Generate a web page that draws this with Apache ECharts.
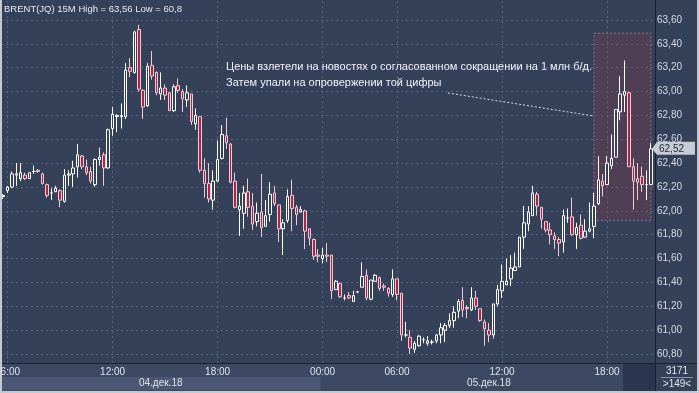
<!DOCTYPE html>
<html><head><meta charset="utf-8">
<script src="https://cdn.jsdelivr.net/npm/echarts@6.0.0/dist/echarts.min.js"></script>
<style>html,body{margin:0;padding:0;background:#354059;overflow:hidden}#c{width:699px;height:393px}</style>
</head><body><div id="c"></div>
<script>
// ---- data ----
const sessions = [
  { date: '04.12.18', start: '05:45', bars: 73 },
  { date: '05.12.18', start: '00:00', bars: 4 },
  { date: '05.12.18', start: '02:45', bars: 72 }
];
const hourTicks = ['00:00', '06:00', '12:00', '18:00'];
const dayLabels = ['04.дек.18', '05.дек.18'];
const dayLabelIndex = [36, 111];
const yTickMin = 60.6, yTickMax = 63.8, yTickStep = 0.2;

const opens = [62.12,62.17,62.20,62.30,62.27,62.30,62.27,62.33,62.34,62.31,
62.22,62.15,62.16,62.17,62.08,62.30,62.31,62.37,62.46,62.37,
62.33,62.22,62.43,62.47,62.36,62.69,62.79,62.79,62.79,63.20,
63.16,63.52,63.01,62.88,63.22,63.16,62.98,63.03,62.99,62.84,
63.05,63.00,62.93,62.98,62.73,62.79,62.34,62.23,62.09,62.25,
62.44,62.63,62.56,62.25,62.01,61.98,62.16,62.04,61.91,61.99,
61.87,61.97,62.15,62.05,61.85,61.92,62.13,62.03,61.99,62.00,
61.85,61.76,61.63,61.60,61.63,61.63,61.34,61.39,61.27,61.29,
61.24,61.32,61.36,61.46,61.26,61.41,61.44,61.37,61.35,61.30,
61.43,61.31,60.96,60.94,60.84,60.87,60.92,60.89,60.90,60.91,
60.96,61.00,61.04,61.08,61.16,61.25,61.19,61.17,61.27,61.18,
61.07,61.00,60.96,61.22,61.33,61.38,61.43,61.50,61.53,61.78,
61.89,61.96,62.14,62.03,61.91,61.84,61.79,61.76,61.74,61.94,
61.95,61.80,61.88,61.78,61.83,61.87,62.06,62.25,62.22,62.38,
62.45,62.83,62.97,62.99,62.37,62.27,62.29,62.22,62.22];
const closes = [62.13,62.20,62.31,62.31,62.32,62.27,62.32,62.33,62.33,62.23,
62.13,62.15,62.19,62.09,62.30,62.31,62.36,62.47,62.37,62.32,
62.25,62.43,62.45,62.36,62.68,62.81,62.80,62.80,63.18,63.17,
63.50,63.02,62.87,63.21,63.13,62.99,63.03,62.97,62.84,63.04,
63.01,62.94,62.99,62.75,62.80,62.34,62.23,62.10,62.25,62.43,
62.64,62.57,62.24,62.03,62.04,62.15,62.03,61.89,61.98,61.86,
61.96,62.14,62.06,61.85,61.90,62.12,62.02,61.97,62.01,61.83,
61.77,61.62,61.62,61.63,61.62,61.33,61.41,61.28,61.27,61.27,
61.29,61.32,61.45,61.27,61.42,61.46,61.35,61.36,61.31,61.43,
61.30,60.96,60.96,60.85,60.89,60.95,60.92,60.91,60.90,60.96,
61.02,61.04,61.08,61.15,61.24,61.17,61.18,61.27,61.20,61.08,
61.01,60.96,61.22,61.34,61.41,61.41,61.52,61.53,61.78,61.90,
61.99,62.15,62.04,61.93,61.84,61.80,61.76,61.73,61.96,61.94,
61.80,61.86,61.77,61.83,61.85,62.04,62.26,62.21,62.40,62.44,
62.85,62.98,63.00,62.37,62.25,62.24,62.22,62.22,62.52];
const lows = [62.10,62.15,62.19,62.21,62.25,62.26,62.27,62.31,62.32,62.22,
62.11,62.09,62.16,62.03,62.07,62.21,62.20,62.28,62.35,62.30,
62.23,62.20,62.38,62.21,62.35,62.63,62.66,62.69,62.77,63.12,
63.15,63.00,62.77,62.87,63.10,62.97,62.93,62.93,62.84,62.83,
62.99,62.83,62.87,62.72,62.68,62.32,62.11,62.07,62.01,62.24,
62.43,62.52,62.23,62.02,61.79,61.85,61.95,61.84,61.87,61.78,
61.87,61.91,62.04,61.74,61.63,61.90,61.83,61.88,61.99,61.68,
61.71,61.59,61.57,61.56,61.57,61.26,61.34,61.27,61.25,61.26,
61.24,61.31,61.36,61.25,61.25,61.41,61.33,61.33,61.28,61.28,
61.25,60.91,60.94,60.80,60.81,60.86,60.89,60.87,60.88,60.89,
60.89,60.90,61.02,61.02,61.10,61.11,61.10,61.16,61.17,61.07,
60.87,60.90,60.93,61.20,61.27,61.38,61.37,61.50,61.53,61.68,
61.83,61.96,61.96,61.85,61.82,61.72,61.68,61.62,61.65,61.90,
61.79,61.68,61.76,61.78,61.82,61.77,62.05,62.12,62.22,62.35,
62.45,62.76,62.83,62.37,62.01,62.09,62.16,62.09,62.22];
const highs = [62.14,62.21,62.33,62.40,62.40,62.32,62.32,62.38,62.35,62.32,
62.23,62.19,62.21,62.18,62.35,62.34,62.42,62.56,62.47,62.43,
62.37,62.44,62.53,62.49,62.69,62.87,62.81,62.90,63.24,63.28,
63.51,63.56,63.02,63.24,63.34,63.17,63.16,63.06,63.00,63.06,
63.11,63.02,63.05,62.98,62.86,62.79,62.44,62.40,62.34,62.59,
62.72,62.78,62.57,62.32,62.15,62.21,62.27,62.15,62.07,62.31,
62.09,62.24,62.21,62.05,61.93,62.18,62.26,62.05,62.04,62.01,
61.85,61.77,61.68,61.69,61.73,61.63,61.42,61.40,61.30,61.32,
61.33,61.33,61.57,61.51,61.42,61.47,61.45,61.39,61.36,61.51,
61.43,61.31,61.07,61.00,60.91,60.96,60.94,60.95,60.92,60.97,
61.06,61.06,61.14,61.20,61.26,61.36,61.21,61.36,61.33,61.18,
61.09,61.06,61.22,61.38,61.55,61.60,61.63,61.65,61.78,62.04,
62.04,62.21,62.16,62.03,61.91,61.90,61.82,61.78,62.01,62.02,
62.11,61.90,61.97,61.93,62.07,62.15,62.46,62.31,62.46,62.64,
62.85,63.13,63.26,63.00,62.44,62.40,62.37,62.34,62.57];

const highlight = { fromIndex: 135, toIndex: 148, top: 63.49, bottom: 61.92 };
const annotationEnd = { index: 135, price: 62.795 };

// ---- build categories (15-minute bars) ----
const categories = [];
sessions.forEach(s => {
  let [h, m] = s.start.split(':').map(Number);
  let t = h * 60 + m;
  for (let k = 0; k < s.bars; k++) {
    const hh = String(Math.floor(t / 60)).padStart(2, '0');
    const mm = String(t % 60).padStart(2, '0');
    categories.push(s.date + ' ' + hh + ':' + mm);
    t += 15;
  }
});
const ohlc = categories.map((_, i) => [opens[i], closes[i], lows[i], highs[i]]);
const isHour = (idx, val) => hourTicks.indexOf(String(val).slice(-5)) >= 0;

const FONT = '"Liberation Sans", Arial, sans-serif';
const gridCol = '#5a6681';

const chart = echarts.init(document.getElementById('c'), null, { renderer: 'canvas' });

function baseOption() {
  return {
    animation: false,
    backgroundColor: '#354059',
    textStyle: { fontFamily: FONT },
    grid: { left: 1, right: 46, top: -3.86, bottom: 15.1, containLabel: false, outerBoundsMode: 'none' },
    xAxis: [
      {
        type: 'category', data: categories, gridIndex: 0, z: 0,
        axisLine: { show: false }, axisTick: { show: false }, axisLabel: { show: false },
        splitLine: { show: true, interval: isHour, alignWithLabel: true,
          lineStyle: { color: gridCol, type: [2, 3], width: 1 } }
      },
      {
        type: 'category', data: categories, gridIndex: 0, position: 'bottom', offset: -14, z: 10,
        axisLine: { show: false }, axisTick: { show: false }, splitLine: { show: false },
        axisLabel: { interval: isHour, formatter: v => v.slice(-5), color: '#dfe3ea',
          fontSize: 10, margin: 3, fontFamily: FONT }
      },
      {
        type: 'category', data: categories, gridIndex: 0, position: 'bottom', offset: -3, z: 10,
        axisLine: { show: false }, axisTick: { show: false }, splitLine: { show: false },
        axisLabel: { interval: (i) => dayLabelIndex.indexOf(i) >= 0,
          formatter: (v, i) => dayLabels[dayLabelIndex.indexOf(i)] || '',
          color: '#dfe3ea', fontSize: 10, margin: 3, fontFamily: FONT }
      }
    ],
    yAxis: {
      type: 'value', position: 'right', min: yTickMin, max: yTickMax, interval: yTickStep,
      axisLine: { show: false }, axisTick: { show: false },
      axisLabel: { margin: 4, color: '#d6dbe4', fontSize: 10, fontFamily: FONT,
        showMinLabel: false, showMaxLabel: false,
        formatter: v => v.toFixed(2).replace('.', ',') },
      splitLine: { show: true, lineStyle: { color: gridCol, type: [2, 3], width: 1 } }
    },
    series: [{
      type: 'candlestick', xAxisIndex: 0, yAxisIndex: 0, data: ohlc, barWidth: 3, z: 2,
      itemStyle: { color: '#354059', color0: '#a3284a', borderColor: '#ffffff',
        borderColor0: '#f2c9d5', borderColorDoji: '#ffffff', borderWidth: 1 },
      markArea: {
        silent: true,
        itemStyle: { color: 'rgba(135,60,80,0.33)', borderColor: 'rgba(200,165,185,0.55)',
          borderWidth: 1, borderType: [2, 2] },
        data: [[
          { xAxis: categories[highlight.fromIndex], yAxis: highlight.top },
          { xAxis: categories[highlight.toIndex], yAxis: highlight.bottom }
        ]]
      }
    }]
  };
}

chart.setOption(baseOption());

const last = closes.length - 1;
const yLast = chart.convertToPixel({ yAxisIndex: 0 }, closes[last]);
const endPt = chart.convertToPixel({ xAxisIndex: 0, yAxisIndex: 0 },
  [categories[annotationEnd.index], annotationEnd.price]);
const dayBoundary = chart.convertToPixel({ xAxisIndex: 0 }, categories[73]) - 2.2;

const g = [
  // x-axis band
  { type: 'rect', z: 5, shape: { x: 0, y: 364, width: 656, height: 29 }, style: { fill: '#3d4863' } },
  { type: 'rect', z: 6, shape: { x: 2, y: 377, width: dayBoundary - 2, height: 13 }, style: { fill: '#4b5774' } },
  { type: 'rect', z: 6, shape: { x: 623, y: 364, width: 32, height: 28 }, style: { fill: '#2b3550' } },
  // separators
  { type: 'line', z: 7, shape: { x1: 0, y1: 363.5, x2: 699, y2: 363.5 }, style: { stroke: '#1b2130', lineWidth: 1 } },
  { type: 'line', z: 7, shape: { x1: 655.5, y1: 0, x2: 655.5, y2: 393 }, style: { stroke: '#1b2130', lineWidth: 1 } },
  // bottom-right box
  { type: 'text', z: 8, style: { x: 677, y: 371, text: '3171', fill: '#e3e6ec', font: '10px ' + FONT, align: 'center', verticalAlign: 'middle' } },
  { type: 'line', z: 8, shape: { x1: 661, y1: 377.5, x2: 693, y2: 377.5 }, style: { stroke: '#8c96aa', lineWidth: 1 } },
  { type: 'text', z: 8, style: { x: 677, y: 384, text: '>149<', fill: '#e3e6ec', font: '10px ' + FONT, align: 'center', verticalAlign: 'middle' } },
  // frame
  { type: 'rect', z: 9, shape: { x: 0, y: 0, width: 2, height: 393 }, style: { fill: '#c3c9d3' } },
  { type: 'rect', z: 9, shape: { x: 697, y: 0, width: 2, height: 393 }, style: { fill: '#c3c9d3' } },
  { type: 'rect', z: 9, shape: { x: 0, y: 391, width: 699, height: 2 }, style: { fill: '#c3c9d3' } },
  // title
  { type: 'text', z: 9, style: { x: 4, y: 9, text: 'BRENT(JQ) 15M High = 63,56 Low = 60,8', fill: '#e6e9ef', font: '9.5px ' + FONT, verticalAlign: 'middle' } },
  // annotation
  { type: 'text', z: 9, style: { x: 226, y: 75, text: 'Цены взлетели на новостях о согласованном сокращении на 1 млн б/д.\nЗатем упали на опровержении той цифры', fill: '#f1f3f6', font: '11px ' + FONT, lineHeight: 16, verticalAlign: 'middle' } },
  { type: 'line', z: 9, shape: { x1: 448, y1: 93, x2: endPt[0], y2: endPt[1] }, style: { stroke: '#d6dae3', lineWidth: 1, lineDash: [2, 2] } },
  // last price marker
  { type: 'polygon', z: 20, shape: { points: [[652, yLast], [657, yLast - 7], [695, yLast - 7], [695, yLast + 6], [657, yLast + 6]] }, style: { fill: '#c6cbd4' } },
  { type: 'text', z: 21, style: { x: 659, y: yLast, text: closes[last].toFixed(2).replace('.', ','), fill: '#1e2330', font: '10px ' + FONT, verticalAlign: 'middle' } }
];
chart.setOption({ graphic: g });
</script></body></html>
